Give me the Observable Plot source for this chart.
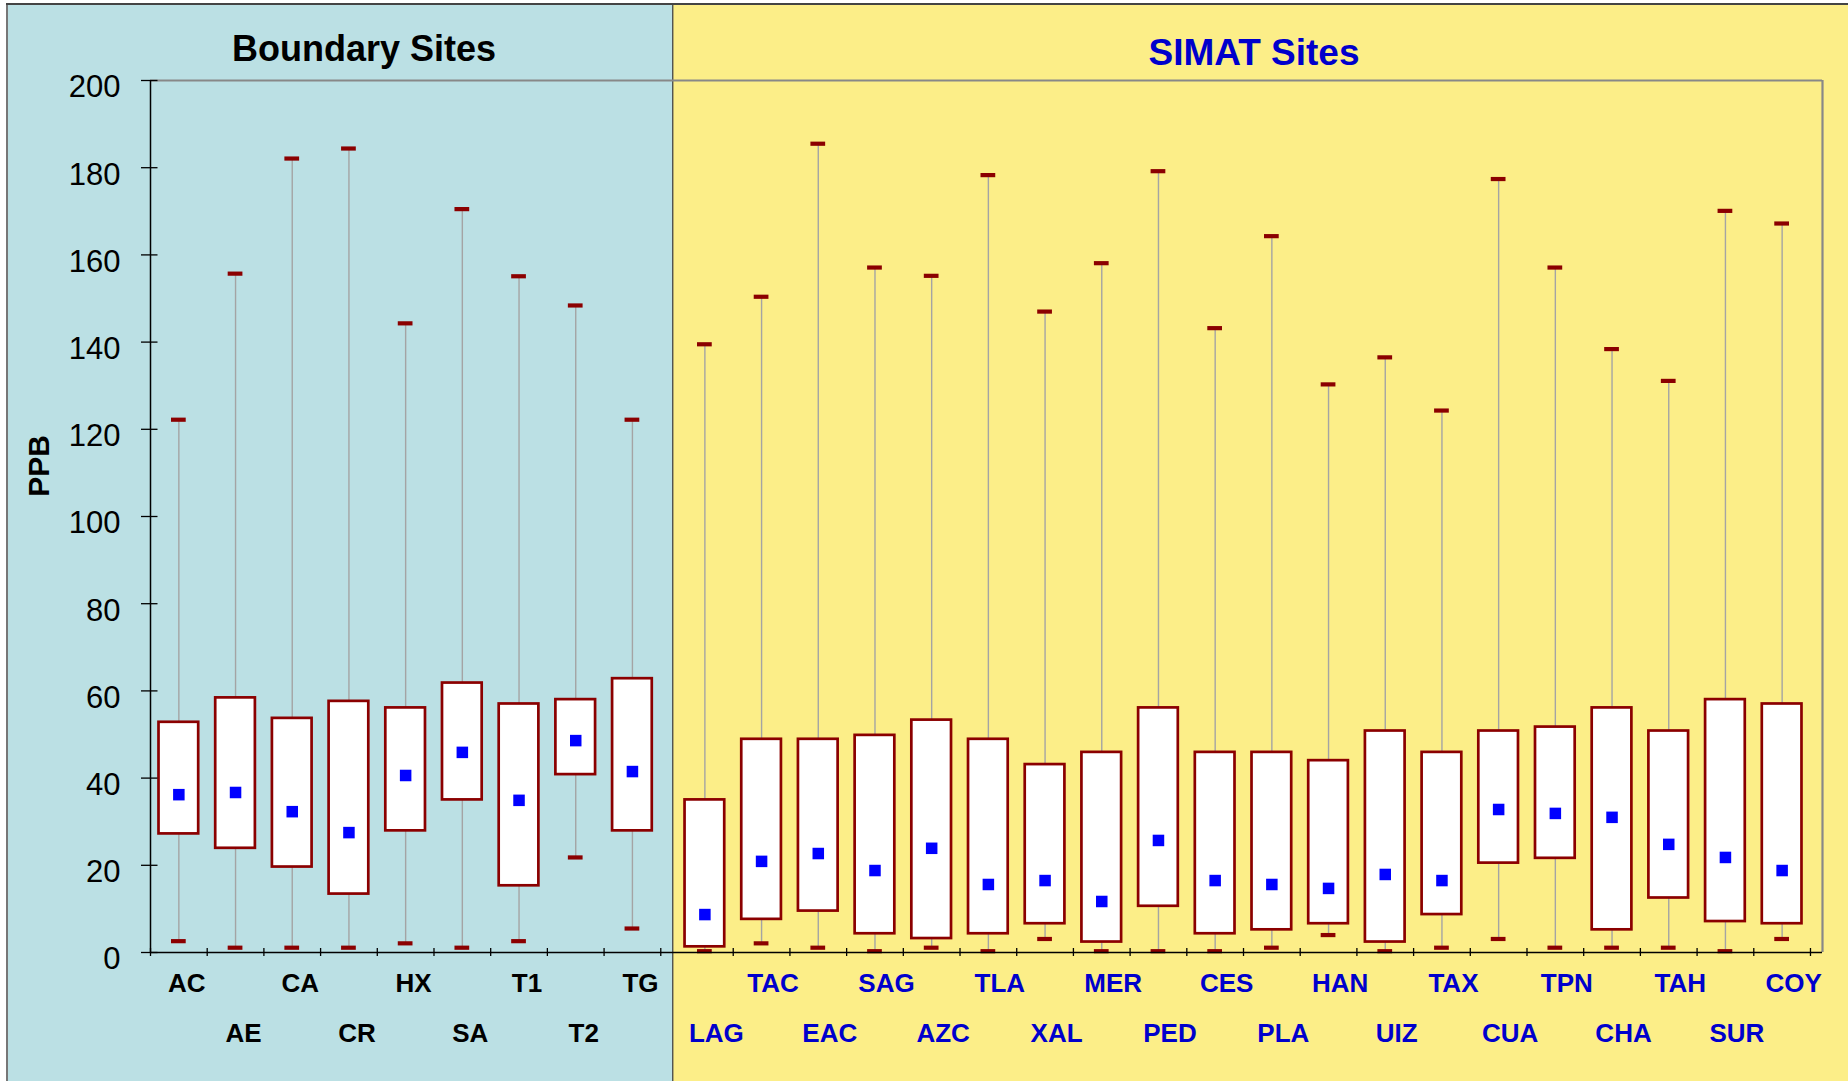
<!DOCTYPE html>
<html><head><meta charset="utf-8">
<script src="https://cdn.jsdelivr.net/npm/d3@7"></script>
<script src="https://cdn.jsdelivr.net/npm/@observablehq/plot@0.6"></script>
<style>
html,body{margin:0;padding:0;background:#fff;}
#chart{position:relative;width:1848px;height:1081px;}
</style></head><body><div id="chart"></div>
<script>
// ---------- data ----------
const boundarySites = ["AC","AE","CA","CR","HX","SA","T1","T2","TG"];
const boundaryMin  = [2.6, 1.1, 1.1, 1.1, 2.1, 1.1, 2.6, 21.8, 5.5];
const boundaryQ1   = [27.2, 23.9, 19.6, 13.4, 27.9, 35.0, 15.3, 40.8, 27.9];
const boundaryMean = [36.2, 36.7, 32.3, 27.5, 40.6, 45.9, 34.9, 48.6, 41.5];
const boundaryQ3   = [52.8, 58.4, 53.7, 57.6, 56.1, 61.8, 57.0, 58.0, 62.8];
const boundaryMax  = [122.2, 155.7, 182.1, 184.4, 144.3, 170.5, 155.1, 148.4, 122.2];

const simatSites = ["LAG","TAC","EAC","SAG","AZC","TLA","XAL","MER","PED","CES","PLA","HAN","UIZ","TAX","CUA","TPN","CHA","TAH","SUR","COY"];
const simatMin  = [0.3, 2.1, 1.1, 0.3, 1.1, 0.3, 3.1, 0.3, 0.3, 0.3, 1.1, 4.0, 0.3, 1.1, 3.1, 1.1, 1.1, 1.1, 0.3, 3.1];
const simatQ1   = [1.3, 7.6, 9.5, 4.3, 3.2, 4.3, 6.6, 2.4, 10.6, 4.3, 5.2, 6.6, 2.4, 8.7, 20.5, 21.6, 5.2, 12.5, 7.1, 6.6];
const simatMean = [8.7, 20.9, 22.7, 18.8, 23.9, 15.6, 16.5, 11.7, 25.7, 16.5, 15.6, 14.7, 17.9, 16.5, 32.8, 31.9, 31.0, 24.8, 21.8, 18.8];
const simatQ3   = [35.0, 48.9, 48.9, 49.8, 53.3, 48.9, 43.1, 45.9, 56.1, 45.9, 45.9, 44.0, 50.8, 45.9, 50.8, 51.7, 56.1, 50.8, 58.0, 57.0];
const simatMax  = [139.5, 150.4, 185.5, 157.1, 155.2, 178.3, 147.0, 158.1, 179.2, 143.2, 164.3, 130.3, 136.5, 124.3, 177.4, 157.1, 138.4, 131.1, 170.1, 167.2];

const yTicks = [0, 20, 40, 60, 80, 100, 120, 140, 160, 180, 200];
const yLabel = "PPB";
const boundaryTitle = "Boundary Sites";
const simatTitle = "SIMAT Sites";

// ---------- layout constants (category units) ----------
const groupGap = 0.278;   // extra space between the two groups
const panelSplit = 9.22;  // boundary between the two background panels
const xMax = 29.49;
const boxHalf = 0.35, capHalf = 0.13;
const W = 1848, H = 1081;
const FONT = "'Liberation Sans', Arial, Helvetica, sans-serif";
const DARKRED = "#8b0000", BLUE = "#0000ff", LABELBLUE = "#0000cc";

// ---------- table ----------
const rows = [];
boundarySites.forEach((s, i) => rows.push({site: s, group: "Boundary", u: i + 0.5, row: i % 2,
  min: boundaryMin[i], q1: boundaryQ1[i], mean: boundaryMean[i], q3: boundaryQ3[i], max: boundaryMax[i]}));
simatSites.forEach((s, j) => rows.push({site: s, group: "SIMAT", u: boundarySites.length + groupGap + j + 0.5, row: (j + 1) % 2,
  min: simatMin[j], q1: simatQ1[j], mean: simatMean[j], q3: simatQ3[j], max: simatMax[j]}));

const xTicks = [];
for (let k = 0; k <= boundarySites.length; k++) xTicks.push(k);
for (let j = 0; j < simatSites.length; j++) xTicks.push(boundarySites.length + groupGap + j + 1);

const pick = (g, r) => rows.filter(d => d.group === g && d.row === r);
const labelMark = (g, r, dx, fill) => Plot.text(pick(g, r), {x: "u", y: 0, text: "site", dx, dy: r === 0 ? 31 : 81,
  fontSize: 26, fontWeight: "bold", fill});

const chart = Plot.plot({
  width: W, height: H,
  marginLeft: 150, marginRight: 26, marginTop: 80, marginBottom: 129,
  x: {domain: [0, xMax], axis: null},
  y: {domain: [0, 200], axis: null},
  style: {background: "transparent", fontFamily: FONT, overflow: "visible"},
  marks: [
    Plot.ruleY([200], {stroke: "#888", strokeWidth: 2}),
    Plot.ruleX([xMax], {y1: 0, y2: 200, stroke: "#888", strokeWidth: 2.2}),
    Plot.ruleX(rows, {x: "u", y1: "min", y2: "max", stroke: "#a4a4a4", strokeWidth: 1.4}),
    Plot.ruleY(rows, {y: "min", x1: d => d.u - capHalf, x2: d => d.u + capHalf, stroke: DARKRED, strokeWidth: 4.2}),
    Plot.ruleY(rows, {y: "max", x1: d => d.u - capHalf, x2: d => d.u + capHalf, stroke: DARKRED, strokeWidth: 4.2}),
    Plot.rect(rows, {x1: d => d.u - boxHalf, x2: d => d.u + boxHalf, y1: "q1", y2: "q3", fill: "white", stroke: DARKRED, strokeWidth: 2.7}),
    Plot.dot(rows, {x: "u", y: "mean", symbol: "square", r: 6.5, fill: BLUE, stroke: null}),
    Plot.ruleX([0], {y1: 0, y2: 200, stroke: "black", strokeWidth: 1.5}),
    Plot.ruleY([0], {stroke: "black", strokeWidth: 1.5}),
    Plot.ruleY(yTicks, {x1: 0, x2: 0, insetLeft: -9, insetRight: -7.5, stroke: "black", strokeWidth: 1.3}),
    Plot.ruleX(xTicks, {y1: 0, y2: 0, insetTop: -4, insetBottom: -4, stroke: "black", strokeWidth: 1.3}),
    Plot.text(yTicks, {x: 0, y: d => d, text: d => String(d), textAnchor: "end", dx: -30, dy: 7, fontSize: 31, fill: "black"}),
    labelMark("Boundary", 0, 8, "black"),
    labelMark("Boundary", 1, 8, "black"),
    labelMark("SIMAT", 0, 11.5, LABELBLUE),
    labelMark("SIMAT", 1, 11.5, LABELBLUE)
  ]
});

document.getElementById("chart").appendChild(chart);

// ---------- background panels, borders, titles ----------
const svg = d3.select(chart);
const xs = chart.scale("x");
const split = xs.apply(panelSplit);
const bg = svg.insert("g", ":first-child");
bg.append("rect").attr("x", 7).attr("y", 4).attr("width", split - 7).attr("height", H - 4).attr("fill", "#bbe0e4");
bg.append("rect").attr("x", split).attr("y", 4).attr("width", W - split).attr("height", H - 4).attr("fill", "#fcee88");
bg.append("line").attr("x1", 7).attr("x2", 7).attr("y1", 4).attr("y2", H).attr("stroke", "#777").attr("stroke-width", 2);
bg.append("line").attr("x1", 6).attr("x2", W).attr("y1", 4).attr("y2", 4).attr("stroke", "#444").attr("stroke-width", 2);
bg.append("line").attr("x1", split).attr("x2", split).attr("y1", 4).attr("y2", H).attr("stroke", "#444").attr("stroke-width", 1.3);

svg.append("text").attr("x", 364).attr("y", 61).attr("text-anchor", "middle")
  .attr("font-family", FONT).attr("font-weight", "bold").attr("font-size", 36).attr("fill", "black").text(boundaryTitle);
svg.append("text").attr("x", 1254).attr("y", 65).attr("text-anchor", "middle")
  .attr("font-family", FONT).attr("font-weight", "bold").attr("font-size", 37).attr("fill", LABELBLUE).text(simatTitle);
svg.append("text").attr("transform", "translate(49,466) rotate(-90)").attr("text-anchor", "middle")
  .attr("font-family", FONT).attr("font-weight", "bold").attr("font-size", 30).attr("fill", "black").text(yLabel);
</script></body></html>
